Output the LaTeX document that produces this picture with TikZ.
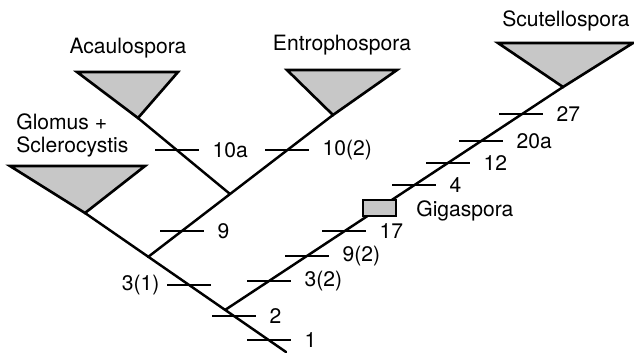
\documentclass[tikz,border=0pt]{standalone}
\usepackage{fontspec}
\setmainfont{TeX Gyre Heros}
\usetikzlibrary{positioning}

\begin{document}
\begin{tikzpicture}[x=0.02cm,y=-0.02cm,
  every node/.style={font=\fontsize{12}{14}\selectfont,inner sep=0pt},
  branch/.style={line width=1.4pt,line cap=round},
  clade/.style={line width=1.5pt,fill=black!22,line join=miter},
  tick/.style={line width=0.7pt},
  num/.style={anchor=west,xshift=0.26cm}]
\useasboundingbox (0,0) rectangle (634,352);
% branch points and clade tips
\coordinate (root) at (286,352);
\coordinate (giga) at (225,310);
\coordinate (glac) at (148,257);
\coordinate (acen) at (230,194);
\coordinate (glom) at (85,213);
\coordinate (acau) at (138,118);
\coordinate (entr) at (333,115);
\coordinate (scut) at (563,87);

% clades
\draw[clade] (glom) -- (10,166) -- (145,166) -- cycle;
\draw[clade] (acau) -- (77,72) -- (178,72) -- cycle;
\draw[clade] (entr) -- (287,70) -- (397,70) -- cycle;
\draw[clade] (scut) -- (498,43) -- (633,43) -- cycle;

% branches
\draw[branch] (root) -- (glom);
\draw[branch] (glac) -- (entr);
\draw[branch] (acen) -- (acau);
\draw[branch] (giga) -- (scut);
\draw[clade] (363,200) rectangle (396,216);

\node (lacau) at (128,48) {Acaulospora};
\node (lentr) at (342,45) {Entrophospora};
\node (lscut) at (566,21) {Scutellospora};
\node[anchor=west,align=left] (lglom) at (16,135) {Glomus +\\[-1pt]Sclerocystis};
\node[anchor=west] (lgiga) at (416,211) {Gigaspora};

% character changes
\draw[tick] (247,340) -- (291,340) node[num] (c1) {1};
\draw[tick] (212,316) -- (256,316) node[num] (c2) {2};
\draw[tick] (211,285) -- (167,285) node[anchor=east,xshift=-0.14cm] (c31) {3(1)};
\draw[tick] (247,281) -- (291,281) node[num] (c32) {3(2)};
\draw[tick] (285,256) -- (329,256) node[num] (c92) {9(2)};
\draw[tick] (322,231) -- (366,231) node[num] (c17) {17};
\draw[tick] (392,185) -- (436,185) node[num] (c4) {4};
\draw[tick] (426,163) -- (470,163) node[num] (c12) {12};
\draw[tick] (459,141) -- (503,141) node[num] (c20a) {20a};
\draw[tick] (499,114) -- (543,114) node[num] (c27) {27};
\draw[tick] (160,231) -- (204,231) node[num] (c9) {9};
\draw[tick] (155,150) -- (199,150) node[num] (c10a) {10a};
\draw[tick] (265,150) -- (309,150) node[num] (c102) {10(2)};
\end{tikzpicture}
\end{document}
